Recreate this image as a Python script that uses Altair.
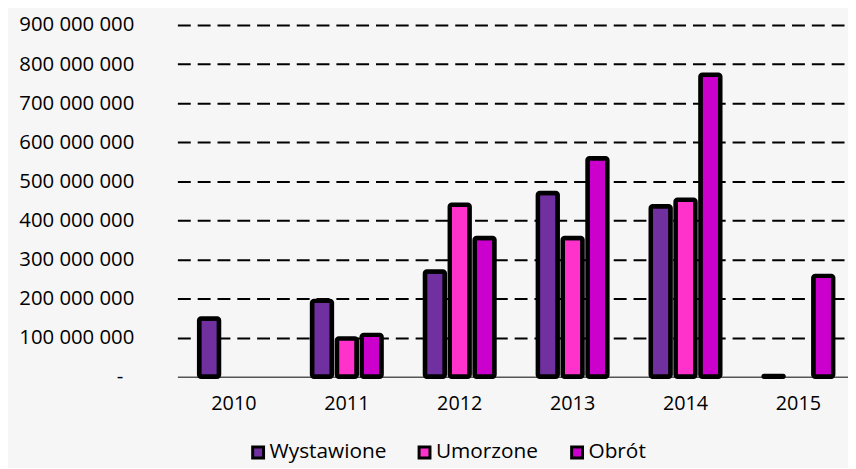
import altair as alt
import pandas as pd

years = ["2010", "2011", "2012", "2013", "2014", "2015"]
series = ["Wystawione", "Umorzone", "Obrót"]
wystawione = [149_000_000, 194_000_000, 269_000_000, 470_000_000, 436_000_000, 2_000_000]
umorzone = [None, 98_000_000, 440_000_000, 355_000_000, 453_000_000, None]
obrot = [None, 107_000_000, 355_000_000, 559_000_000, 773_000_000, 258_000_000]
colors = ["#7030A0", "#FF33CC", "#CC00CC"]
y_ticks = [0, 100_000_000, 200_000_000, 300_000_000, 400_000_000, 500_000_000,
           600_000_000, 700_000_000, 800_000_000, 900_000_000]

rows = []
for s, vals in zip(series, [wystawione, umorzone, obrot]):
    for yr, v in zip(years, vals):
        if v is not None:
            rows.append({"rok": yr, "seria": s, "wartosc": v})
df = pd.DataFrame(rows)

FONT = "Open Sans"

label_expr = ("datum.value == 0 ? '-' : "
              "format(datum.value / 1000000, 'd') + ' 000 000'")

chart = alt.Chart(df).mark_bar(
    stroke="black", strokeWidth=4.5, cornerRadius=2
).encode(
    x=alt.X("rok:N", sort=years,
            scale=alt.Scale(domain=years, paddingInner=0.34, paddingOuter=0.14, align=0.61),
            axis=alt.Axis(title=None, labelAngle=0, labelFont=FONT, labelFontSize=20,
                          labelColor="#000000", ticks=False, tickSize=0, labelPadding=17,
                          domain=True, domainColor="#555555", domainWidth=1.5, grid=False)),
    xOffset=alt.XOffset("seria:N", sort=series,
                        scale=alt.Scale(domain=series, paddingInner=0.2, paddingOuter=0.1)),
    y=alt.Y("wartosc:Q",
            scale=alt.Scale(domain=[0, 900_000_000], nice=False),
            axis=alt.Axis(title=None, values=y_ticks, labelExpr=label_expr,
                          labelFont=FONT, labelFontSize=20.5, labelColor="#000000",
                          ticks=False, tickSize=0,
                          labelPadding=alt.condition("datum.value == 0", alt.value(55), alt.value(44)),
                          domain=False,
                          grid=True, gridColor="#000000", gridWidth=2, gridDash=[13, 7],
                          gridOpacity=alt.condition("datum.value == 0", alt.value(0), alt.value(1)))),
    color=alt.Color("seria:N", sort=series,
                    scale=alt.Scale(domain=series, range=colors),
                    legend=alt.Legend(title=None, orient="none", direction="horizontal",
                                      legendX=71, legendY=421,
                                      symbolType="square", symbolSize=121,
                                      symbolStrokeColor="black", symbolStrokeWidth=3,
                                      symbolOpacity=1,
                                      labelFont=FONT, labelFontSize=21, labelColor="#000000",
                                      labelOffset=1, columnPadding=27)),
).properties(
    width=677,
    height=355,
    autosize=alt.AutoSizeParams(type="none"),
    padding={"left": 171, "top": 15, "right": 0, "bottom": 90},
    background="#f6f6f6",
).configure_view(
    stroke=None
)

chart.save("out.html", embed_options={"renderer": "svg", "actions": False})
